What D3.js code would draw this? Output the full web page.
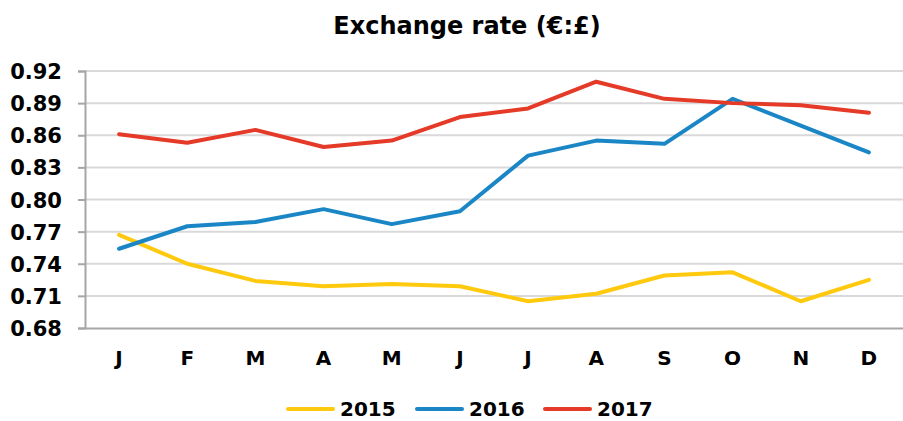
<!DOCTYPE html>
<html>
<head>
<meta charset="utf-8">
<script src="https://cdn.jsdelivr.net/npm/d3@7"></script>
<style>
  body { margin: 0; background: #fff; }
  text { font-family: "DejaVu Sans", Verdana, sans-serif; font-weight: bold; fill: #000; }
</style>
</head>
<body>
<div id="chart"></div>
<script>
'use strict';

const months = ['J', 'F', 'M', 'A', 'M', 'J', 'J', 'A', 'S', 'O', 'N', 'D'];
const years = ['2015', '2016', '2017'];
const rate2015 = [0.767, 0.740, 0.724, 0.719, 0.721, 0.719, 0.705, 0.712, 0.729, 0.732, 0.705, 0.725];
const rate2016 = [0.754, 0.775, 0.779, 0.791, 0.777, 0.789, 0.841, 0.855, 0.852, 0.894, 0.869, 0.844];
const rate2017 = [0.861, 0.853, 0.865, 0.849, 0.855, 0.877, 0.885, 0.910, 0.894, 0.890, 0.888, 0.881];
const yTicks = [0.68, 0.71, 0.74, 0.77, 0.80, 0.83, 0.86, 0.89, 0.92];
const colors = ['#ffc90e', '#1a86c6', '#e53a28'];

const series = [rate2015, rate2016, rate2017];

const width = 903;
const height = 421;
const margin = { top: 71, right: 0, bottom: 93, left: 85 };

const svg = d3.select('#chart')
  .append('svg')
  .attr('width', width)
  .attr('height', height);

svg.append('text')
  .attr('x', 467)
  .attr('y', 34)
  .attr('text-anchor', 'middle')
  .style('font-size', '24px')
  .text('Exchange rate (€:£)');

const x = d3.scaleBand()
  .domain(d3.range(months.length))
  .range([margin.left, width - margin.right]);

const y = d3.scaleLinear()
  .domain([0.68, 0.92])
  .range([height - margin.bottom, margin.top]);

// gridlines
svg.append('g')
  .selectAll('line')
  .data(yTicks.slice(1))
  .join('line')
  .attr('x1', margin.left)
  .attr('x2', width - margin.right)
  .attr('y1', (d) => y(d))
  .attr('y2', (d) => y(d))
  .attr('stroke', '#d9d9d9')
  .attr('stroke-width', 2);

const yAxis = d3.axisLeft(y)
  .tickValues(yTicks)
  .tickFormat(d3.format('.2f'))
  .tickSize(7)
  .tickPadding(16);

svg.append('g')
  .attr('transform', `translate(${margin.left},0)`)
  .call(yAxis)
  .call((g) => g.selectAll('line').attr('stroke', '#a6a6a6').attr('stroke-width', 2))
  .call((g) => g.select('.domain').attr('stroke', '#a6a6a6').attr('stroke-width', 2))
  .call((g) => g.selectAll('text').style('font-size', '21px').attr('dy', '0.36em')
    .attr('font-family', null).attr('font-weight', null));

const xAxis = d3.axisBottom(x)
  .tickFormat((i) => months[i])
  .tickSize(0)
  .tickPadding(23);

svg.append('g')
  .attr('transform', `translate(0,${y(0.68)})`)
  .call(xAxis)
  .call((g) => g.select('.domain').attr('stroke', '#a6a6a6').attr('stroke-width', 2))
  .call((g) => g.selectAll('text').style('font-size', '20px').attr('font-family', null).attr('font-weight', null));

const line = d3.line()
  .x((d, i) => x(i) + x.bandwidth() / 2)
  .y((d) => y(d));

svg.append('g')
  .selectAll('path')
  .data(series)
  .join('path')
  .attr('d', line)
  .attr('fill', 'none')
  .attr('stroke', (d, i) => colors[i])
  .attr('stroke-width', 4)
  .attr('stroke-linejoin', 'round')
  .attr('stroke-linecap', 'round');

// legend
const legendX = [288, 417, 545];
const legend = svg.append('g')
  .selectAll('g')
  .data(years)
  .join('g')
  .attr('transform', (d, i) => `translate(${legendX[i]},409)`);

legend.append('line')
  .attr('x1', 0)
  .attr('x2', 45)
  .attr('stroke', (d, i) => colors[i])
  .attr('stroke-width', 4)
  .attr('stroke-linecap', 'round');

legend.append('text')
  .attr('x', 52)
  .attr('dy', '0.36em')
  .style('font-size', '20px')
  .text((d) => d);
</script>
</body>
</html>
